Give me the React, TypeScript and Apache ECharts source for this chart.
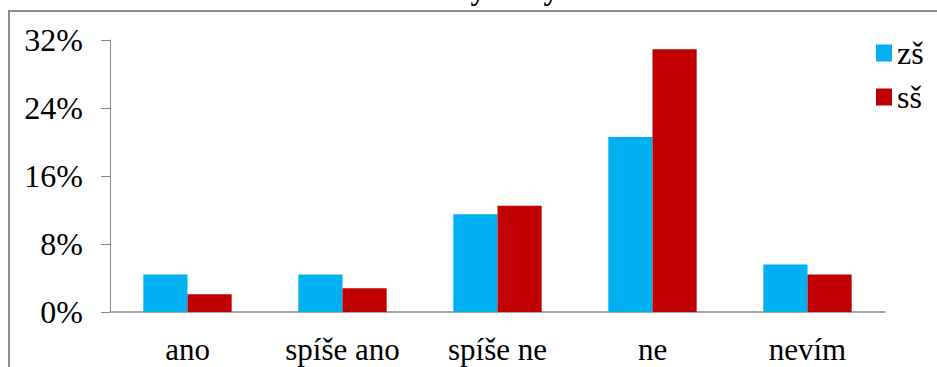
import React, { useEffect, useRef } from "react";
import * as echarts from "echarts";

const categories = ["ano", "spíše ano", "spíše ne", "ne", "nevím"];
const seriesNames = ["zš", "sš"];
const zsValues = [4.4, 4.4, 11.5, 20.6, 5.6];
const ssValues = [2.1, 2.8, 12.5, 30.9, 4.4];
const yMin = 0;
const yMax = 32;
const yInterval = 8;

const FONT = "Times New Roman, Liberation Serif, serif";

export default function App() {
  const ref = useRef<HTMLDivElement>(null);
  useEffect(() => {
    if (!ref.current) return;
    const chart = echarts.init(ref.current, undefined, { renderer: "svg" });
    chart.setOption({
      animation: false,
      backgroundColor: "#ffffff",
      textStyle: { fontFamily: FONT, color: "#000" },
      grid: { left: 110, right: 52, top: 40, height: 272, containLabel: false },
      legend: {
        orient: "vertical",
        left: 876,
        top: 37,
        itemWidth: 16,
        itemHeight: 17,
        itemGap: 12,
        padding: 0,
        icon: "rect",
        textStyle: { fontFamily: FONT, fontSize: 32, color: "#000" },
        data: seriesNames,
      },
      xAxis: {
        type: "category",
        data: categories,
        axisLine: { lineStyle: { color: "#a6a6a6", width: 2 } },
        axisTick: { show: false },
        axisLabel: { fontFamily: FONT, fontSize: 31, color: "#000", margin: 22 },
      },
      yAxis: {
        type: "value",
        min: yMin,
        max: yMax,
        interval: yInterval,
        splitLine: { show: false },
        axisLine: { show: true, lineStyle: { color: "#868686", width: 1 } },
        axisTick: { show: true, length: 9, lineStyle: { color: "#868686" } },
        axisLabel: {
          fontFamily: FONT,
          fontSize: 32,
          color: "#000",
          margin: 27,
          formatter: "{value}%",
        },
      },
      series: [
        {
          name: seriesNames[0],
          type: "bar",
          data: zsValues,
          barGap: "0%",
          barCategoryGap: "43%",
          itemStyle: { color: "#00b0f0" },
        },
        {
          name: seriesNames[1],
          type: "bar",
          data: ssValues,
          barGap: "0%",
          barCategoryGap: "43%",
          itemStyle: { color: "#c00000" },
        },
      ],
      graphic: [
        {
          type: "polyline",
          shape: { points: [[9, 367], [9, 11], [937, 11]] },
          style: { stroke: "#8c8c8c", lineWidth: 2, fill: "none" },
          silent: true,
        },
        {
          type: "text",
          x: 478,
          y: 4,
          style: {
            text: "y",
            font: "bold 30px " + FONT,
            fill: "#000",
            align: "center",
            verticalAlign: "bottom",
          },
          silent: true,
        },
        {
          type: "text",
          x: 551,
          y: 4,
          style: {
            text: "y",
            font: "bold 30px " + FONT,
            fill: "#000",
            align: "center",
            verticalAlign: "bottom",
          },
          silent: true,
        },
      ],
    });
    return () => chart.dispose();
  }, []);
  return (
    <div
      ref={ref}
      style={{ position: "fixed", left: 0, top: 0, width: 937, height: 367 }}
    />
  );
}
